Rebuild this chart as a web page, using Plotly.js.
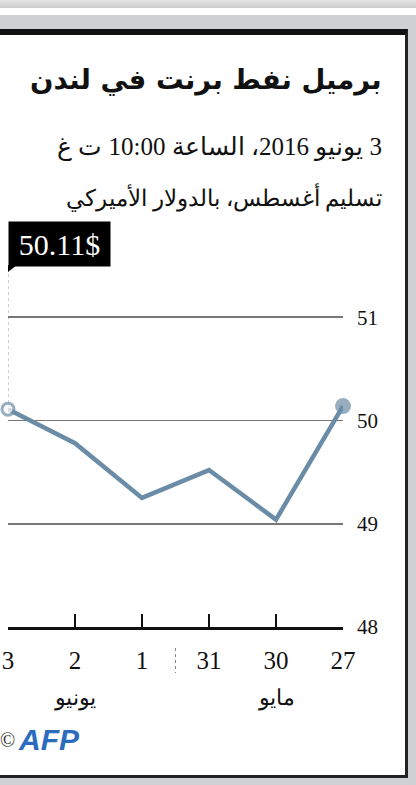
<!DOCTYPE html>
<html>
<head>
<meta charset="utf-8">
<script src="https://cdn.plot.ly/plotly-3.0.1.min.js"></script>
<style>
  html, body { margin: 0; padding: 0; width: 416px; height: 785px; overflow: hidden; background: #cfd0d2; }
  #topband { position: absolute; left: 0; top: 0; width: 416px; height: 8px; background: linear-gradient(#e4e4e4, #cbcbcb); }
  #white { position: absolute; left: 0; top: 8px; width: 416px; height: 7px; background: #ffffff; }
  #panel { position: absolute; left: -10px; top: 29px; width: 415px; height: 740px; background: #ffffff;
           border-top: 6px solid #111; border-right: 3px solid #222; border-bottom: 3px solid #222; }
  #chart { position: absolute; left: 0; top: 0; width: 416px; height: 785px; }
</style>
</head>
<body>
<div id="topband"></div>
<div id="white"></div>
<div id="panel"></div>
<div id="chart"></div>
<script>
// Data (chronological order; axis reversed so time runs right-to-left)
const dates = ['27', '30', '31', '1', '2', '3'];
const prices = [50.14, 49.04, 49.52, 49.25, 49.78, 50.11];
const yTicks = [48, 49, 50, 51];
const monthLabels = ['مايو', 'يونيو'];
const monthAt = ['30', '2'];
const lastLabel = '50.11$';

const RLM = '\u200F';
const titleText = 'برميل نفط برنت في لندن';
const sub1 = RLM + '3 يونيو 2016، الساعة 10:00 ت غ';
const sub2 = 'تسليم أغسطس، بالدولار الأميركي';

const lineColor = '#6b8ca6';
const serif = 'Liberation Serif, Times New Roman, serif';
const arabic = 'DejaVu Sans, Noto Sans, sans-serif';

const n = dates.length;
const markerSizes = dates.map((d, i) => (i === 0 ? 13 : (i === n - 1 ? 12 : 0)));
const markerColors = dates.map((d, i) => (i === n - 1 ? '#ffffff' : lineColor));

const trace = {
  type: 'scatter',
  mode: 'lines+markers',
  x: dates,
  y: prices,
  line: { color: lineColor, width: 4.5 },
  marker: { size: markerSizes, color: markerColors, line: { color: lineColor, width: 3 } },
  cliponaxis: false,
  hoverinfo: 'none'
};

// helper: pixel to paper
const L = 8, R = 73, T = 214, B = 158, W = 416, H = 785;
const pw = W - L - R, ph = H - T - B;
const px = x => (x - L) / pw;
const py = y => (H - B - y) / ph;

const lastIdx = n - 1;
const lastVal = prices[lastIdx];

const layout = {
  width: W, height: H,
  margin: { l: L, r: R, t: T, b: B, pad: 0 },
  paper_bgcolor: 'rgba(0,0,0,0)',
  plot_bgcolor: 'rgba(0,0,0,0)',
  showlegend: false,
  xaxis: {
    type: 'category',
    range: [n - 1, 0],
    showgrid: false,
    zeroline: false,
    showline: true,
    linecolor: '#111',
    linewidth: 2.5,
    ticks: 'inside',
    ticklen: 13,
    tickwidth: 1.5,
    tickcolor: '#111',
    ticklabelstandoff: 9,
    tickfont: { family: serif, size: 25, color: '#111' },
    fixedrange: true
  },
  yaxis: {
    side: 'right',
    range: [48, 52],
    tickvals: yTicks,
    ticktext: yTicks.map(String),
    showgrid: true,
    gridcolor: '#777',
    gridwidth: 1.6,
    zeroline: false,
    showline: false,
    ticks: '',
    ticklabelstandoff: 13,
    tickfont: { family: serif, size: 21, color: '#111' },
    fixedrange: true
  },
  shapes: [
    // leader line from label to last point
    { type: 'line', xref: 'x', yref: 'y', x0: lastIdx, x1: lastIdx, y0: lastVal, y1: 48 + (627 - 272) / 103.25,
      line: { color: '#999', width: 1, dash: 'dot' }, layer: 'below' },
    // tail of label box
    { type: 'path', xref: 'x', yref: 'y', xsizemode: 'pixel', ysizemode: 'pixel',
      xanchor: lastIdx, yanchor: 48 + (627 - 265) / 103.25,
      path: 'M0,0 L9,0 L0,-7 Z', fillcolor: '#000', line: { width: 0 } },
    // month divider between 31 and 1
    { type: 'line', xref: 'x', yref: 'paper', x0: 2.5, x1: 2.5, y0: py(648), y1: py(673),
      line: { color: '#888', width: 1, dash: 'dot' } }
  ],
  annotations: [
    { text: '<b>' + titleText + '</b>', xref: 'paper', yref: 'paper', x: px(384), y: py(80),
      xanchor: 'right', yanchor: 'middle', showarrow: false,
      font: { family: arabic, size: 27.5, color: '#111' } },
    { text: sub1, xref: 'paper', yref: 'paper', x: px(384), y: py(147),
      xanchor: 'right', yanchor: 'middle', showarrow: false,
      font: { family: serif, size: 25, color: '#111' } },
    { text: sub2, xref: 'paper', yref: 'paper', x: px(384), y: py(197),
      xanchor: 'right', yanchor: 'middle', showarrow: false,
      font: { family: serif, size: 23, color: '#111' } },
    { text: lastLabel, xref: 'x', yref: 'y', x: lastIdx, y: 48 + (627 - 244) / 103.25,
      xanchor: 'left', yanchor: 'middle', showarrow: false,
      bgcolor: '#000', borderpad: 3, width: 95, height: 38, align: 'center',
      font: { family: serif, size: 30, color: '#fff' } },
    { text: monthLabels[0], xref: 'x', yref: 'paper', x: dates.indexOf(monthAt[0]), y: py(698),
      xanchor: 'center', yanchor: 'middle', showarrow: false,
      font: { family: serif, size: 22, color: '#111' } },
    { text: monthLabels[1], xref: 'x', yref: 'paper', x: dates.indexOf(monthAt[1]), y: py(698),
      xanchor: 'center', yanchor: 'middle', showarrow: false,
      font: { family: serif, size: 22, color: '#111' } },
    { text: '<b><i>AFP</i></b>', xref: 'paper', yref: 'paper', x: px(16), y: py(739),
      xanchor: 'left', yanchor: 'middle', showarrow: false,
      font: { family: 'Liberation Sans, Arial, sans-serif', size: 30, color: '#2b6cbf' } },
    { text: '©', xref: 'paper', yref: 'paper', x: px(7), y: py(740),
      xanchor: 'center', yanchor: 'middle', showarrow: false,
      font: { family: serif, size: 20, color: '#333' } }
  ]
};

Plotly.newPlot('chart', [trace], layout, { displayModeBar: false, staticPlot: true });
</script>
</body>
</html>
